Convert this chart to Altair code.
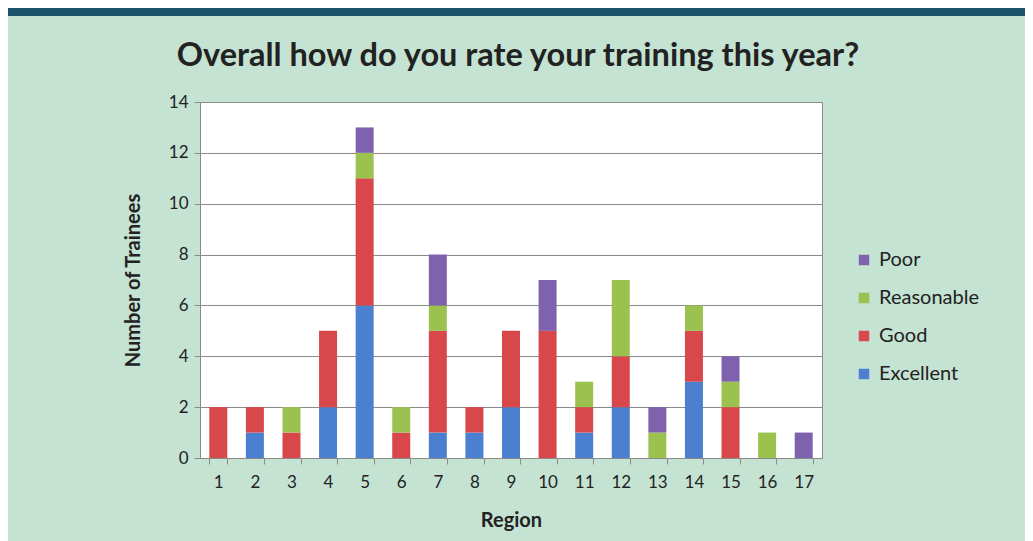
import altair as alt
import pandas as pd

regions = [str(i) for i in range(1, 18)]
excellent = [0, 1, 0, 2, 6, 0, 1, 1, 2, 0, 1, 2, 0, 3, 0, 0, 0]
good = [2, 1, 1, 3, 5, 1, 4, 1, 3, 5, 1, 2, 0, 2, 2, 0, 0]
reasonable = [0, 0, 1, 0, 1, 1, 1, 0, 0, 0, 1, 3, 1, 1, 1, 1, 0]
poor = [0, 0, 0, 0, 1, 0, 2, 0, 0, 2, 0, 0, 1, 0, 1, 0, 1]

ratings = ["Excellent", "Good", "Reasonable", "Poor"]
series = [excellent, good, reasonable, poor]
legend_order = ["Poor", "Reasonable", "Good", "Excellent"]
colors = ["#7f62ad", "#9bc24f", "#d8474a", "#4a80cf"]
title_text = "Overall how do you rate your training this year?"

rows = []
for k, (name, vals) in enumerate(zip(ratings, series)):
    for r, v in zip(regions, vals):
        rows.append({"Region": r, "Rating": name, "Count": v, "ord": k})
df = pd.DataFrame(rows)

FONT = "Lato"

bars = alt.Chart(df).mark_bar(size=18).encode(
    x=alt.X("Region:N", sort=regions, scale=alt.Scale(paddingInner=0.5, paddingOuter=0.25),
            axis=alt.Axis(title="Region", labelAngle=0, tickBand="extent", tickSize=6,
                          labelPadding=10, titlePadding=20, domainColor="#8a8a8a",
                          tickColor="#8a8a8a", labelFontSize=17, titleFontSize=20,
                          titleFontWeight="bold", labelColor="#222", titleColor="#222",
                          labelFont=FONT, titleFont=FONT)),
    y=alt.Y("Count:Q", stack="zero", scale=alt.Scale(domain=[0, 14], nice=False),
            axis=alt.Axis(title="Number of Trainees", values=list(range(0, 15, 2)),
                          tickSize=6, labelPadding=6, titlePadding=25, grid=True,
                          gridColor="#8a8a8a", gridWidth=1.2, domainColor="#8a8a8a",
                          tickColor="#8a8a8a", labelFontSize=17, titleFontSize=20,
                          titleFontWeight="bold", labelColor="#222", titleColor="#222",
                          labelFont=FONT, titleFont=FONT)),
    color=alt.Color("Rating:N", scale=alt.Scale(domain=legend_order, range=colors),
                    legend=alt.Legend(title=None, orient="none", legendX=654, legendY=148,
                                      symbolType="square", symbolSize=110, rowPadding=18,
                                      labelFontSize=20, labelFont=FONT, labelColor="#222",
                                      symbolStrokeWidth=0, labelOffset=5)),
    order=alt.Order("ord:Q", sort="ascending"),
)

band = alt.Chart(pd.DataFrame({"a": [0]})).mark_rect(color="#1a5269").encode(
    x=alt.value(-192), x2=alt.value(825), y=alt.value(-94), y2=alt.value(-86)
)

title = alt.Chart(pd.DataFrame({"t": [title_text]})).mark_text(
    font=FONT, fontSize=32.5, fontWeight="bold", color="#222", align="center", baseline="middle"
).encode(text="t:N", x=alt.value(318), y=alt.value(-46))

chart = alt.layer(band, title, bars).properties(
    width=622, height=356,
    autosize=alt.AutoSizeParams(type="none"),
    padding={"left": 192, "top": 94, "right": 203, "bottom": 83},
    background="#c5e3d2",
).configure_view(fill="white", stroke="#8a8a8a", strokeWidth=1)

chart.save("out.html", embed_options={"renderer": "svg", "actions": False})
